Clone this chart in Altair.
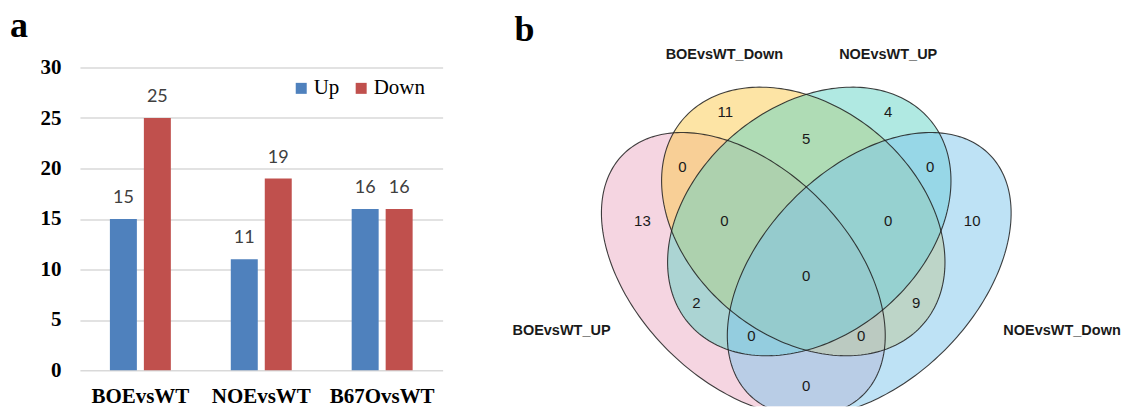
import math

import altair as alt
import pandas as pd

# ---- panel a: number of differentially expressed genes ----
GROUPS = ["BOEvsWT", "NOEvsWT", "B67OvsWT"]
UP = [15, 11, 16]
DOWN = [25, 19, 16]
DIRECTIONS = ["Up", "Down"]
DIRECTION_COLORS = ["#4F81BD", "#C0504D"]
Y_TICKS = [0, 5, 10, 15, 20, 25, 30]

# ---- panel b: overlap of the four gene sets ----
SET_NAMES = ["BOEvsWT_UP", "BOEvsWT_Down", "NOEvsWT_UP", "NOEvsWT_Down"]
SET_COLORS = ["#EBABC3", "#FBC94B", "#61D3C5", "#7DC5EB"]
REGIONS = ["A", "B", "C", "D", "AB", "BC", "CD", "AC", "BD", "AD",
           "ABC", "BCD", "ACD", "ABD", "ABCD"]
REGION_COUNTS = [13, 11, 4, 10, 0, 5, 0, 2, 9, 0, 0, 0, 0, 0, 0]

# Venn layout in its own units (origin on the symmetry axis):
# ellipse centre x, centre y, semi-major, semi-minor, tilt in degrees
ELLIPSE_LAYOUT = {
    "BOEvsWT_UP": (-0.63, -0.53, 1.70, 1.07, -45),
    "BOEvsWT_Down": (-0.03, 0.0, 1.58, 1.15, -40),
    "NOEvsWT_UP": (0.03, 0.0, 1.58, 1.15, 40),
    "NOEvsWT_Down": (0.63, -0.53, 1.70, 1.07, 45),
}
REGION_LAYOUT = {
    "A": (-1.64, 0.0), "B": (-0.81, 1.10), "C": (0.82, 1.10), "D": (1.66, 0.0),
    "AB": (-1.24, 0.55), "BC": (0.0, 0.83), "CD": (1.24, 0.55),
    "AC": (-1.10, -0.82), "BD": (1.10, -0.82), "AD": (0.0, -1.65),
    "ABC": (-0.82, 0.0), "BCD": (0.82, 0.0), "ACD": (-0.55, -1.15),
    "ABD": (0.55, -1.15), "ABCD": (0.0, -0.55),
}
SET_LABEL_LAYOUT = {
    "BOEvsWT_UP": (-2.45, -1.10),
    "BOEvsWT_Down": (-0.82, 1.67),
    "NOEvsWT_UP": (0.82, 1.67),
    "NOEvsWT_Down": (2.56, -1.10),
}
VENN_X = [-3.37, 3.14]
VENN_Y = [-1.85, 1.54]

SERIF = "Liberation Serif"
SANS = "Liberation Sans"


def ellipse_band(cx, cy, a, b, deg, n=240):
    """Upper and lower edge of a tilted ellipse, sampled along x."""
    t = math.radians(deg)
    c, s = math.cos(t), math.sin(t)
    qa = s * s / a ** 2 + c * c / b ** 2
    half_w = math.sqrt(a * a * c * c + b * b * s * s)
    rows = []
    for i in range(n + 1):
        dx = -half_w * math.cos(math.pi * i / n)
        qb = 2 * dx * (c * s / a ** 2 - s * c / b ** 2)
        qc = dx * dx * (c * c / a ** 2 + s * s / b ** 2) - 1
        r = math.sqrt(max(qb * qb - 4 * qa * qc, 0.0))
        rows.append({"vx": cx + dx,
                     "lo": cy + (-qb - r) / (2 * qa),
                     "hi": cy + (-qb + r) / (2 * qa)})
    return rows


def ellipse_outline(name, cx, cy, a, b, deg, n=240):
    t = math.radians(deg)
    c, s = math.cos(t), math.sin(t)
    rows = []
    for i in range(n + 1):
        p = 2 * math.pi * i / n
        u, v = a * math.cos(p), b * math.sin(p)
        rows.append({"set": name, "k": i,
                     "vx": cx + u * c - v * s,
                     "vy": cy + u * s + v * c})
    return rows


# ---------------- bar chart ----------------
bars_df = pd.DataFrame(
    [{"group": g, "direction": "Up", "value": u} for g, u in zip(GROUPS, UP)]
    + [{"group": g, "direction": "Down", "value": d} for g, d in zip(GROUPS, DOWN)]
)

x_enc = alt.X(
    "group:N", sort=GROUPS, title=None,
    scale=alt.Scale(paddingInner=0, paddingOuter=0),
    axis=alt.Axis(domain=False, ticks=False, tickSize=0, labelAngle=0,
                  labelFont=SERIF, labelFontWeight="bold", labelFontSize=21,
                  labelColor="black", labelPadding=15),
)
xo_enc = alt.XOffset(
    "direction:N", sort=DIRECTIONS,
    scale=alt.Scale(paddingInner=0.206, paddingOuter=0.882),
)
y_enc = alt.Y(
    "value:Q", title=None,
    scale=alt.Scale(domain=[0, 30], nice=False),
    axis=alt.Axis(values=Y_TICKS, domain=False, ticks=False, tickSize=0,
                  grid=True, gridColor="#D9D9D9", gridWidth=1.5,
                  labelFont=SERIF, labelFontWeight="bold", labelFontSize=21,
                  labelColor="black", labelPadding=19),
)

bar_base = alt.Chart(bars_df).encode(x=x_enc, xOffset=xo_enc, y=y_enc)

bars = bar_base.mark_bar().encode(
    color=alt.Color(
        "direction:N", sort=DIRECTIONS,
        scale=alt.Scale(domain=DIRECTIONS, range=DIRECTION_COLORS),
        legend=alt.Legend(
            title=None, orient="none", legendX=211, legendY=10,
            direction="horizontal", symbolType="square", symbolSize=121,
            symbolStrokeWidth=0, labelFont=SERIF, labelFontSize=21,
            labelColor="black", labelOffset=2, columnPadding=11, padding=0,
        ),
    )
)
bar_labels = bar_base.mark_text(
    baseline="alphabetic", dy=-16, font="Lato", fontSize=18, color="#404040"
).encode(text="value:Q")

panel_a = alt.layer(bars, bar_labels).properties(
    width=363, height=303,
    title=alt.Title("a", anchor="start", frame="group", dx=-70, dy=2, offset=14,
                    fontSize=36, font=SERIF, fontWeight="bold", color="black"),
)

# ---------------- Venn diagram ----------------
xs = alt.Scale(domain=VENN_X, nice=False, zero=False)
ys = alt.Scale(domain=VENN_Y, nice=False, zero=False)

venn_layers = []
for name, color in zip(SET_NAMES, SET_COLORS):
    band = pd.DataFrame(ellipse_band(*ELLIPSE_LAYOUT[name]))
    venn_layers.append(
        alt.Chart(band).mark_area(clip=True, fill=color, fillOpacity=0.5,
                                  strokeWidth=0).encode(
            x=alt.X("vx:Q", scale=xs, axis=None),
            y=alt.Y("hi:Q", scale=ys, axis=None),
            y2="lo:Q",
        )
    )

outline_df = pd.DataFrame(
    [r for name in SET_NAMES for r in ellipse_outline(name, *ELLIPSE_LAYOUT[name])]
)
outlines = alt.Chart(outline_df).mark_line(
    clip=True, color="#1f1f1f", strokeWidth=1.1, opacity=0.85
).encode(
    x=alt.X("vx:Q", scale=xs, axis=None),
    y=alt.Y("vy:Q", scale=ys, axis=None),
    detail="set:N",
    order="k:Q",
)

counts_df = pd.DataFrame({
    "region": REGIONS,
    "count": REGION_COUNTS,
    "vx": [REGION_LAYOUT[r][0] for r in REGIONS],
    "vy": [REGION_LAYOUT[r][1] for r in REGIONS],
})
count_text = alt.Chart(counts_df).mark_text(
    font=SANS, fontSize=15, color="#1a1a1a", baseline="middle", align="center"
).encode(
    x=alt.X("vx:Q", scale=xs, axis=None),
    y=alt.Y("vy:Q", scale=ys, axis=None),
    text="count:Q",
)

names_df = pd.DataFrame({
    "set": SET_NAMES,
    "vx": [SET_LABEL_LAYOUT[s][0] for s in SET_NAMES],
    "vy": [SET_LABEL_LAYOUT[s][1] for s in SET_NAMES],
})
name_text = alt.Chart(names_df).mark_text(
    font=SANS, fontSize=14.5, fontWeight="bold", color="#1a1a1a",
    baseline="middle", align="center"
).encode(
    x=alt.X("vx:Q", scale=xs, axis=None),
    y=alt.Y("vy:Q", scale=ys, axis=None),
    text="set:N",
)

panel_b = alt.layer(*venn_layers, outlines, count_text, name_text).properties(
    width=651, height=339,
    title=alt.Title("b", anchor="start", frame="group", dx=45, dy=5, offset=2.5,
                    fontSize=36, font=SERIF, fontWeight="bold", color="black"),
)

chart = (
    alt.hconcat(panel_a, panel_b, spacing=27, bounds="flush")
    .resolve_scale(x="independent", y="independent", color="independent")
    .resolve_legend(color="independent")
    .properties(padding={"left": 10, "top": 7.5, "right": 0, "bottom": 0},
                background="white")
    .configure_view(stroke=None)
)

chart.save("out.html", embed_options={"renderer": "svg", "actions": False})
